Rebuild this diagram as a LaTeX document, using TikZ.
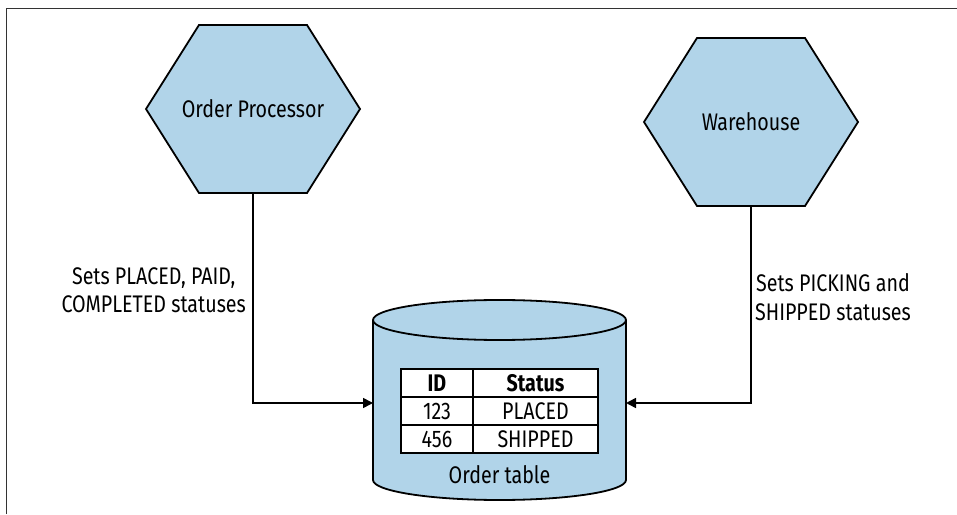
\documentclass[tikz,border=0pt]{standalone}
\usepackage{fontspec}
\setmainfont{Fira Sans}[FakeStretch=0.82]
\usetikzlibrary{shapes.symbols,positioning,arrows.meta}

\definecolor{paleblue}{RGB}{177,212,233}

\tikzset{
  service/.style={signal, signal to=west and east, signal pointer angle=115.5,
    draw, line width=1.8pt, fill=paleblue, minimum width=214pt, minimum height=168pt, inner sep=0pt},
  store/.style={rectangle, outer sep=0pt, minimum width=253pt, minimum height=200pt},
  rim/.style={line width=1.8pt},
  cell/.style={draw, line width=1.6pt, fill=white, minimum height=28pt, outer sep=0pt, inner sep=0pt},
  flow/.style={line width=1.6pt, -{Triangle[length=10pt,width=10pt]}},
}

\begin{document}
\begin{tikzpicture}[x=1pt, y=1pt, node distance=0pt, font=\fontsize{24}{28.5}\selectfont]
  \useasboundingbox (0,0) rectangle (957,514);
  \draw[line width=1pt, black!80] (6,0) -- (6,505) -- (957,505);

  \node[service] (proc) at (253,405) {\makebox[0pt]{Order Processor}};
  \node[service] (wh)   at (751,392) {\makebox[0pt]{Warehouse}};
  \node[store]   (db)   at (499.5,114) {};

  % the store drawn as a drum
  \draw[rim, fill=paleblue] ([yshift=-20pt]db.north west) -- ([yshift=20pt]db.south west)
    arc[start angle=180, end angle=360, x radius=126.5, y radius=20]
    -- ([yshift=-20pt]db.north east)
    arc[start angle=0, end angle=180, x radius=126.5, y radius=20] -- cycle;
  \draw[rim] ([yshift=-20pt]db.north west)
    arc[start angle=180, end angle=360, x radius=126.5, y radius=20];

  % the table inside the store
  \node[cell, minimum width=72pt, font=\fontsize{24}{28.5}\selectfont\bfseries] (idh) at (437,131) {ID};
  \node[cell, minimum width=125pt, right=of idh, font=\fontsize{24}{28.5}\selectfont\bfseries] (sth) {Status};
  \node[cell, minimum width=72pt, below=of idh]  (id1) {123};
  \node[cell, minimum width=125pt, right=of id1] (st1) {PLACED};
  \node[cell, minimum width=72pt, below=of id1]  (id2) {456};
  \node[cell, minimum width=125pt, right=of id2] (st2) {SHIPPED};
  \node (cap) at ([yshift=-74.5pt]db.center) {Order table};

  \draw[flow] (proc.south) |- node[pos=0.23, left=3pt, align=center]
    {Sets PLACED, PAID,\\COMPLETED statuses} ([yshift=-3pt]db.west);
  \draw[flow] (wh.south) |- node[pos=0.23, right=0pt, align=center]
    {Sets PICKING and\\SHIPPED statuses} ([yshift=-3pt]db.east);
\end{tikzpicture}
\end{document}
